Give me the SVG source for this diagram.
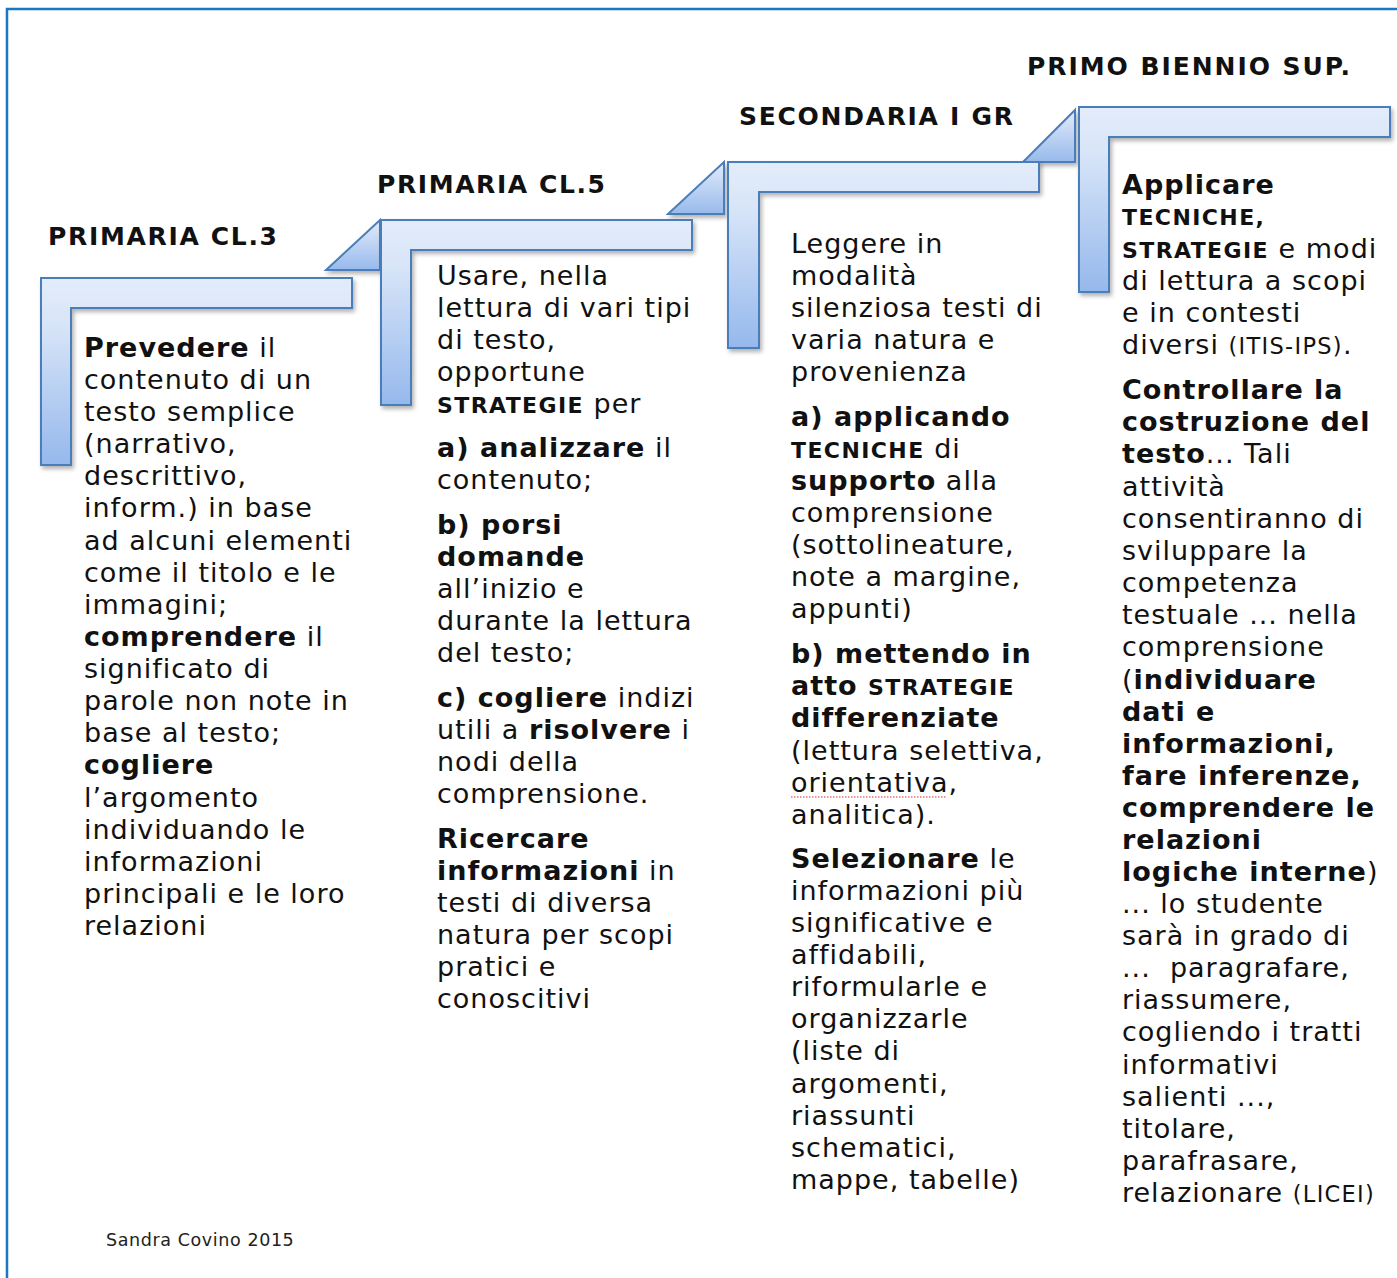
<svg xmlns="http://www.w3.org/2000/svg" width="1397" height="1278" viewBox="0 0 1397 1278">
<defs>
<style>
.t{font-family:"DejaVu Sans",Verdana,sans-serif;font-size:27px;letter-spacing:1px;fill:#111}
.b{font-weight:bold}
.sc{font-size:22px;font-weight:bold;letter-spacing:1.4px}
.sm{font-size:22.5px;letter-spacing:1.3px}
.ttl{font-family:"DejaVu Sans",Verdana,sans-serif;font-size:25px;font-weight:bold;fill:#111}
.foot{font-family:"DejaVu Sans",Verdana,sans-serif;font-size:17.5px;letter-spacing:0.6px;fill:#222}
.bar{fill:url(#gL);stroke:#4a7ebb;stroke-width:2;filter:url(#sh)}
.tri{fill:url(#gT);stroke:#4a7ebb;stroke-width:2;filter:url(#sh)}
</style>
<linearGradient id="gL" x1="0" y1="0" x2="0" y2="1">
<stop offset="0" stop-color="#e3ecfa"/>
<stop offset="0.25" stop-color="#d8e5f8"/>
<stop offset="1" stop-color="#95b8ec"/>
</linearGradient>
<linearGradient id="gT" x1="0" y1="0" x2="0" y2="1">
<stop offset="0" stop-color="#e3ecfa"/>
<stop offset="1" stop-color="#98baec"/>
</linearGradient>
<filter id="sh" x="-10%" y="-10%" width="130%" height="130%">
<feDropShadow dx="2" dy="3" stdDeviation="2" flood-color="#000" flood-opacity="0.3"/>
</filter>
</defs>
<rect width="1397" height="1278" fill="#fff"/>
<rect x="7" y="9" width="1410" height="1300" fill="none" stroke="#1b75c9" stroke-width="2.5"/>

<g id="connectors">
<path class="tri" d="M380,220 V270 H326 Z"/>
<path class="tri" d="M724,162 V214 H668 Z"/>
<path class="tri" d="M1075,110 V162 H1023 Z"/>
</g>

<g id="step1">
<path class="bar" d="M41,278 H352 V308 H71 V465 H41 Z"/>
<text class="ttl" x="48" y="245" textLength="229" lengthAdjust="spacing">PRIMARIA CL.3</text>
<text class="t" x="84" y="357"><tspan class="b">Prevedere</tspan> il</text>
<text class="t" x="84" y="389">contenuto di un</text>
<text class="t" x="84" y="421">testo semplice</text>
<text class="t" x="84" y="453">(narrativo,</text>
<text class="t" x="84" y="485">descrittivo,</text>
<text class="t" x="84" y="517">inform.) in base</text>
<text class="t" x="84" y="550">ad alcuni elementi</text>
<text class="t" x="84" y="582">come il titolo e le</text>
<text class="t" x="84" y="614">immagini;</text>
<text class="t" x="84" y="646"><tspan class="b">comprendere</tspan> il</text>
<text class="t" x="84" y="678">significato di</text>
<text class="t" x="84" y="710">parole non note in</text>
<text class="t" x="84" y="742">base al testo;</text>
<text class="t b" x="84" y="774">cogliere</text>
<text class="t" x="84" y="807">l’argomento</text>
<text class="t" x="84" y="839">individuando le</text>
<text class="t" x="84" y="871">informazioni</text>
<text class="t" x="84" y="903">principali e le loro</text>
<text class="t" x="84" y="935">relazioni</text>
</g>

<g id="step2">
<path class="bar" d="M381,220 H692 V250 H411 V405 H381 Z"/>
<text class="ttl" x="377" y="193" textLength="228" lengthAdjust="spacing">PRIMARIA CL.5</text>
<text class="t" x="437" y="285">Usare, nella</text>
<text class="t" x="437" y="317">lettura di vari tipi</text>
<text class="t" x="437" y="349">di testo,</text>
<text class="t" x="437" y="381">opportune</text>
<text class="t" x="437" y="413"><tspan class="sc">STRATEGIE</tspan> per</text>
<text class="t" x="437" y="457"><tspan class="b">a) analizzare</tspan> il</text>
<text class="t" x="437" y="489">contenuto;</text>
<text class="t b" x="437" y="534">b) porsi</text>
<text class="t b" x="437" y="566">domande</text>
<text class="t" x="437" y="598">all’inizio e</text>
<text class="t" x="437" y="630">durante la lettura</text>
<text class="t" x="437" y="662">del testo;</text>
<text class="t" x="437" y="707"><tspan class="b">c) cogliere</tspan> indizi</text>
<text class="t" x="437" y="739">utili a <tspan class="b">risolvere</tspan> i</text>
<text class="t" x="437" y="771">nodi della</text>
<text class="t" x="437" y="803">comprensione.</text>
<text class="t b" x="437" y="848">Ricercare</text>
<text class="t" x="437" y="880"><tspan class="b">informazioni</tspan> in</text>
<text class="t" x="437" y="912">testi di diversa</text>
<text class="t" x="437" y="944">natura per scopi</text>
<text class="t" x="437" y="976">pratici e</text>
<text class="t" x="437" y="1008">conoscitivi</text>
</g>

<g id="step3">
<path class="bar" d="M728,162 H1039 V192 H759 V348 H728 Z"/>
<text class="ttl" x="739" y="125" textLength="274" lengthAdjust="spacing">SECONDARIA I GR</text>
<text class="t" x="791" y="253">Leggere in</text>
<text class="t" x="791" y="285">modalità</text>
<text class="t" x="791" y="317">silenziosa testi di</text>
<text class="t" x="791" y="349">varia natura e</text>
<text class="t" x="791" y="381">provenienza</text>
<text class="t b" x="791" y="426">a) applicando</text>
<text class="t" x="791" y="458"><tspan class="sc">TECNICHE</tspan> di</text>
<text class="t" x="791" y="490"><tspan class="b">supporto</tspan> alla</text>
<text class="t" x="791" y="522">comprensione</text>
<text class="t" x="791" y="554">(sottolineature,</text>
<text class="t" x="791" y="586">note a margine,</text>
<text class="t" x="791" y="618">appunti)</text>
<text class="t b" x="791" y="663">b) mettendo in</text>
<text class="t b" x="791" y="695">atto <tspan class="sc">STRATEGIE</tspan></text>
<text class="t b" x="791" y="727">differenziate</text>
<text class="t" x="791" y="760">(lettura selettiva,</text>
<text class="t" x="791" y="792">orientativa,</text>
<line x1="791" y1="797" x2="947" y2="797" stroke="#e03030" stroke-width="1.2" stroke-dasharray="1.5 1.5"/>
<text class="t" x="791" y="824">analitica).</text>
<text class="t" x="791" y="868"><tspan class="b">Selezionare</tspan> le</text>
<text class="t" x="791" y="900">informazioni più</text>
<text class="t" x="791" y="932">significative e</text>
<text class="t" x="791" y="964">affidabili,</text>
<text class="t" x="791" y="996">riformularle e</text>
<text class="t" x="791" y="1028">organizzarle</text>
<text class="t" x="791" y="1060">(liste di</text>
<text class="t" x="791" y="1093">argomenti,</text>
<text class="t" x="791" y="1125">riassunti</text>
<text class="t" x="791" y="1157">schematici,</text>
<text class="t" x="791" y="1189">mappe, tabelle)</text>
</g>

<g id="step4">
<path class="bar" d="M1079,107 H1390 V137 H1109 V292 H1079 Z"/>
<text class="ttl" x="1027" y="75" textLength="323" lengthAdjust="spacing">PRIMO BIENNIO SUP.</text>
<text class="t b" x="1122" y="194">Applicare</text>
<text class="t sc" x="1122" y="225">TECNICHE,</text>
<text class="t" x="1122" y="258"><tspan class="sc">STRATEGIE</tspan> e modi</text>
<text class="t" x="1122" y="290">di lettura a scopi</text>
<text class="t" x="1122" y="322">e in contesti</text>
<text class="t" x="1122" y="354">diversi <tspan class="sm">(ITIS-IPS)</tspan>.</text>
<text class="t b" x="1122" y="399">Controllare la</text>
<text class="t b" x="1122" y="431">costruzione del</text>
<text class="t" x="1122" y="463"><tspan class="b">testo</tspan>... Tali</text>
<text class="t" x="1122" y="496">attività</text>
<text class="t" x="1122" y="528">consentiranno di</text>
<text class="t" x="1122" y="560">sviluppare la</text>
<text class="t" x="1122" y="592">competenza</text>
<text class="t" x="1122" y="624">testuale ... nella</text>
<text class="t" x="1122" y="656">comprensione</text>
<text class="t" x="1122" y="689">(<tspan class="b">individuare</tspan></text>
<text class="t b" x="1122" y="721">dati e</text>
<text class="t b" x="1122" y="753">informazioni,</text>
<text class="t b" x="1122" y="785">fare inferenze,</text>
<text class="t b" x="1122" y="817">comprendere le</text>
<text class="t b" x="1122" y="849">relazioni</text>
<text class="t" x="1122" y="881"><tspan class="b">logiche interne</tspan>)</text>
<text class="t" x="1122" y="913">... lo studente</text>
<text class="t" x="1122" y="945">sarà in grado di</text>
<text class="t" x="1122" y="977" xml:space="preserve">...  paragrafare,</text>
<text class="t" x="1122" y="1009">riassumere,</text>
<text class="t" x="1122" y="1041">cogliendo i tratti</text>
<text class="t" x="1122" y="1074">informativi</text>
<text class="t" x="1122" y="1106">salienti ...,</text>
<text class="t" x="1122" y="1138">titolare,</text>
<text class="t" x="1122" y="1170">parafrasare,</text>
<text class="t" x="1122" y="1202">relazionare <tspan class="sm">(LICEI)</tspan></text>
</g>

<text class="foot" x="106" y="1246">Sandra Covino 2015</text>
</svg>
